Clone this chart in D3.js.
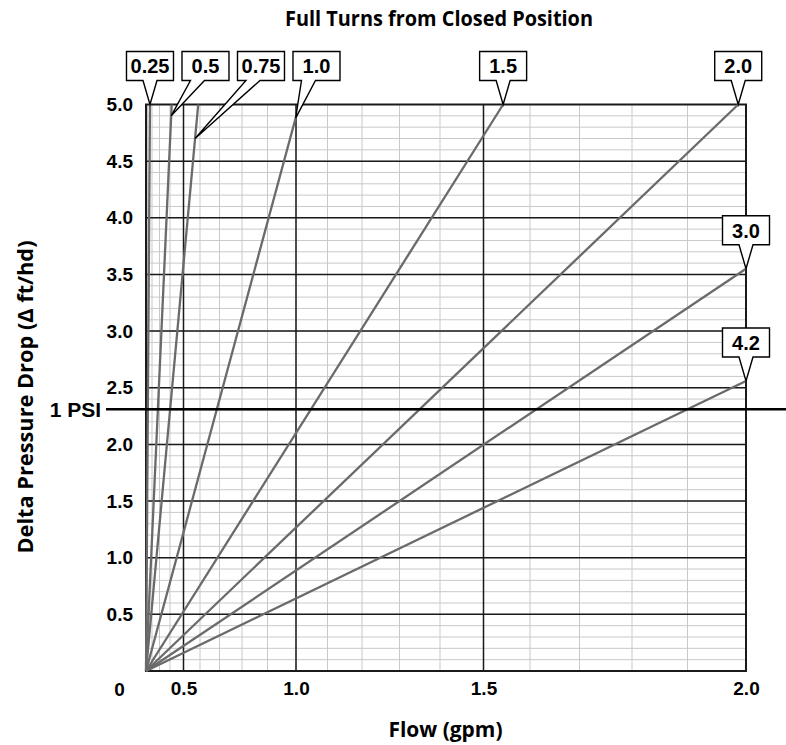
<!DOCTYPE html>
<html>
<head>
<meta charset="utf-8">
<script src="https://cdn.jsdelivr.net/npm/d3@7"></script>
<style>
  body { margin: 0; background: white; }
  svg { display: block; }
</style>
</head>
<body>
<div id="chart"></div>
<script>
// one line per valve setting (full turns from closed)
var turns = ["0.25", "0.5", "0.75", "1.0", "1.5", "2.0", "3.0", "4.2"];
// where each line leaves the grid: flow (gpm) and drop (ft of head)
var endFlow = [0.163, 0.414, 0.59, 1.011, 1.543, 1.987, 2.0, 2.0];
var endDrop = [5.0, 5.0, 5.0, 5.0, 5.0, 5.0, 3.55, 2.56];
// drop at which each label's pointer touches its line
var pointerDrop = [5.0, 4.9, 4.7, 4.88, 5.0, 5.0, 3.55, 2.56];

var flowTicks = [0.5, 1.0, 1.5, 2.0];
var flowTickLabels = ["0.5", "1.0", "1.5", "2.0"];
var dropTicks = [0.5, 1.0, 1.5, 2.0, 2.5, 3.0, 3.5, 4.0, 4.5, 5.0];
var dropTickLabels = ["0.5", "1.0", "1.5", "2.0", "2.5", "3.0", "3.5", "4.0", "4.5", "5.0"];
var psiDrop = 2.31;

var
  WIDTH = 786,
  HEIGHT = 745,

  // plot area, in pixels
  PLOT_LEFT = 146,
  PLOT_RIGHT = 746,
  PLOT_TOP = 104.5,
  PLOT_BOTTOM = 671,

  NUMBER_FONT = "'Liberation Sans', Arial, Helvetica, sans-serif",
  NUMBER_SIZE = 19,
  TITLE_FONT = "'Open Sans', 'Noto Sans', sans-serif",

  MAJOR_COLOR = "#1a1a1a",
  MINOR_COLOR = "#c9c9c9",
  LINE_COLOR = "#6a6a6a",

  // label boxes
  BOX_WIDTH = 47,
  BOX_HEIGHT = 29,
  BOX_GAP = 55.5,
  POINTER_LENGTH = 24,
  POINTER_BASE = 14;

var svg = d3.select("#chart").append("svg")
  .attr("width", WIDTH)
  .attr("height", HEIGHT);

svg.append("rect")
  .attr("width", WIDTH)
  .attr("height", HEIGHT)
  .attr("fill", "white");

// pressure drop grows with flow squared, so the flow axis is squared
var x = d3.scalePow().exponent(2).domain([0, 2]).range([PLOT_LEFT, PLOT_RIGHT]);
var y = d3.scaleLinear().domain([0, 5]).range([PLOT_BOTTOM, PLOT_TOP]);

var flowMinor = d3.range(1, 20).map(function(i){ return i / 10; });
var dropMinor = d3.range(1, 50).map(function(i){ return i / 10; });

function gridLines(values, vertical, color, width){
  var g = svg.append("g")
    .attr("stroke", color)
    .attr("stroke-width", width);
  g.selectAll("line").data(values).enter().append("line")
    .attr("x1", function(d){ return vertical ? x(d) : PLOT_LEFT; })
    .attr("x2", function(d){ return vertical ? x(d) : PLOT_RIGHT; })
    .attr("y1", function(d){ return vertical ? PLOT_TOP : y(d); })
    .attr("y2", function(d){ return vertical ? PLOT_BOTTOM : y(d); });
}

gridLines(flowMinor, true, MINOR_COLOR, 1);
gridLines(dropMinor, false, MINOR_COLOR, 1);
gridLines(flowTicks.slice(0, 3), true, MAJOR_COLOR, 1.5);
gridLines(dropTicks.slice(0, 9), false, MAJOR_COLOR, 1.5);

svg.append("rect")
  .attr("x", PLOT_LEFT)
  .attr("y", PLOT_TOP)
  .attr("width", PLOT_RIGHT - PLOT_LEFT)
  .attr("height", PLOT_BOTTOM - PLOT_TOP)
  .attr("fill", "none")
  .attr("stroke", MAJOR_COLOR)
  .attr("stroke-width", 2);

// the valve lines, straight from the origin
svg.append("g")
  .attr("stroke", LINE_COLOR)
  .attr("stroke-width", 2.3)
  .selectAll("line").data(turns).enter().append("line")
  .attr("x1", x(0))
  .attr("y1", y(0))
  .attr("x2", function(d, i){ return x(endFlow[i]); })
  .attr("y2", function(d, i){ return y(endDrop[i]); });

// 1 PSI reference
svg.append("line")
  .attr("x1", 106)
  .attr("x2", WIDTH)
  .attr("y1", y(psiDrop))
  .attr("y2", y(psiDrop))
  .attr("stroke", "#000")
  .attr("stroke-width", 2.5);

svg.append("text")
  .attr("x", 101)
  .attr("y", y(psiDrop))
  .attr("dy", "0.36em")
  .attr("text-anchor", "end")
  .attr("font-family", NUMBER_FONT)
  .attr("font-weight", "bold")
  .attr("font-size", 21)
  .text("1 PSI");

// axes (labels only, the grid is drawn above)
var xAxis = d3.axisBottom(x)
  .tickValues(flowTicks)
  .tickFormat(function(d, i){ return flowTickLabels[i]; })
  .tickSize(0)
  .tickPadding(11);

var yAxis = d3.axisLeft(y)
  .tickValues(dropTicks)
  .tickFormat(function(d, i){ return dropTickLabels[i]; })
  .tickSize(0)
  .tickPadding(13);

[svg.append("g").attr("transform", "translate(0," + PLOT_BOTTOM + ")").call(xAxis),
 svg.append("g").attr("transform", "translate(" + PLOT_LEFT + ",0)").call(yAxis)
].forEach(function(axis){
  axis.select(".domain").remove();
  axis.selectAll("text")
    .attr("fill", "#000")
    .attr("font-family", NUMBER_FONT)
    .attr("font-weight", "bold")
    .attr("font-size", NUMBER_SIZE);
  axis.attr("font-family", null).attr("font-size", null);
});

svg.append("text")
  .attr("x", 119.5)
  .attr("y", 696)
  .attr("text-anchor", "middle")
  .attr("font-family", NUMBER_FONT)
  .attr("font-weight", "bold")
  .attr("font-size", NUMBER_SIZE)
  .text("0");

// label boxes with a pointer to their line
var packedRight = -Infinity;
var callouts = turns.map(function(t, i){
  var tipY = y(pointerDrop[i]),
      tipX = x(endFlow[i] * Math.sqrt(pointerDrop[i] / endDrop[i])),
      atTop = endDrop[i] >= 5,
      cx = atTop ? Math.max(tipX, packedRight + BOX_GAP) : tipX,
      bottom = Math.min(y(endDrop[i]), tipY) - POINTER_LENGTH;
  if (atTop) packedRight = cx;
  var shift = Math.max(-8, Math.min(8, (tipX - cx) * 0.4));
  return {text: t, cx: cx, bottom: bottom, tipX: tipX, tipY: tipY, baseX: cx + shift};
});

var boxes = svg.append("g").selectAll("g").data(callouts).enter().append("g");

boxes.append("path")
  .attr("fill", "white")
  .attr("stroke", "#000")
  .attr("stroke-width", 1.4)
  .attr("stroke-linejoin", "miter")
  .attr("d", function(c){
    var left = c.cx - BOX_WIDTH / 2,
        right = c.cx + BOX_WIDTH / 2,
        top = c.bottom - BOX_HEIGHT;
    return "M" + left + "," + top +
      "H" + right + "V" + c.bottom +
      "H" + (c.baseX + POINTER_BASE / 2) +
      "L" + c.tipX + "," + c.tipY +
      "L" + (c.baseX - POINTER_BASE / 2) + "," + c.bottom +
      "H" + left + "Z";
  });

boxes.append("text")
  .attr("x", function(c){ return c.cx; })
  .attr("y", function(c){ return c.bottom - BOX_HEIGHT / 2; })
  .attr("dy", "0.37em")
  .attr("text-anchor", "middle")
  .attr("font-family", NUMBER_FONT)
  .attr("font-weight", "bold")
  .attr("font-size", 20)
  .text(function(c){ return c.text; });

// titles
function title(text, tx, ty, length, rotate){
  svg.append("text")
    .attr("transform", "translate(" + tx + "," + ty + ")" + (rotate ? " rotate(-90)" : ""))
    .attr("text-anchor", "middle")
    .attr("font-family", TITLE_FONT)
    .attr("font-weight", "bold")
    .attr("font-size", 22)
    .attr("textLength", length)
    .attr("lengthAdjust", "spacingAndGlyphs")
    .text(text);
}

title("Full Turns from Closed Position", 439, 26, 308, false);
title("Flow (gpm)", 445.5, 736.5, 114, false);
title("Delta Pressure Drop (\u0394 ft/hd)", 33, 397, 313, true);
</script>
</body>
</html>
